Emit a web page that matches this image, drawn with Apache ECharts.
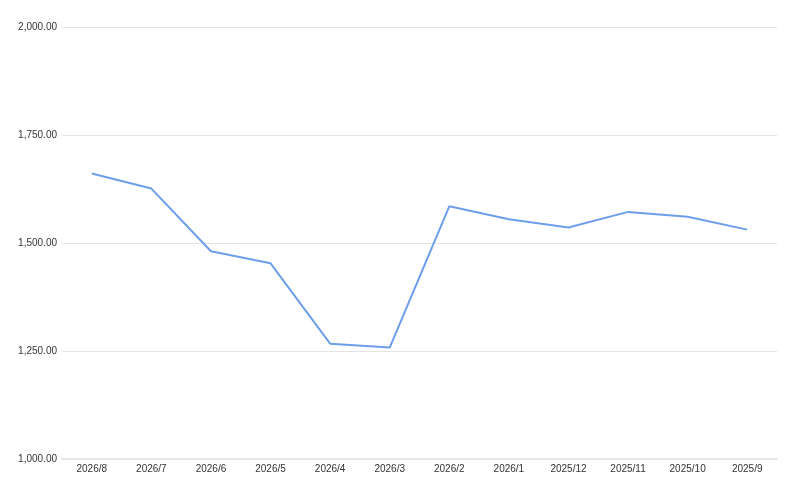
<!DOCTYPE html>
<html>
<head>
<meta charset="utf-8">
<script src="https://cdn.jsdelivr.net/npm/echarts@6/dist/echarts.min.js"></script>
<style>
html,body{margin:0;padding:0;background:#fff;}
#chart{width:800px;height:488px;}
</style>
</head>
<body>
<div id="chart"></div>
<script>
var categories = ['2026/8','2026/7','2026/6','2026/5','2026/4','2026/3','2026/2','2026/1','2025/12','2025/11','2025/10','2025/9'];
var values = [1661, 1626, 1481, 1453, 1267, 1258, 1585, 1555, 1536, 1572, 1561, 1531];
var yMin = 1000, yMax = 2000, yInterval = 250;

var chart = echarts.init(document.getElementById('chart'));
chart.setOption({
  animation: false,
  grid: { left: 62, right: 23, top: 27, bottom: 29, containLabel: false },
  xAxis: {
    type: 'category',
    data: categories,
    boundaryGap: true,
    axisLine: { show: true, lineStyle: { color: '#e3e3e3', width: 1.5 } },
    axisTick: { show: false },
    axisLabel: { color: '#333', fontSize: 10, fontFamily: 'Liberation Sans, Arial, sans-serif', margin: 5 }
  },
  yAxis: {
    type: 'value',
    min: yMin, max: yMax, interval: yInterval,
    axisLine: { show: false },
    axisTick: { show: false },
    splitLine: { lineStyle: { color: '#e3e3e3', width: 1 } },
    axisLabel: {
      color: '#333', fontSize: 10, fontFamily: 'Liberation Sans, Arial, sans-serif', margin: 5,
      formatter: function (v) {
        return v.toLocaleString('en-US', { minimumFractionDigits: 2, maximumFractionDigits: 2 });
      }
    }
  },
  series: [{
    type: 'line',
    data: values,
    symbol: 'none',
    lineStyle: { color: '#6d9eeb', width: 2 },
    itemStyle: { color: '#6d9eeb' }
  }]
});
</script>
</body>
</html>
